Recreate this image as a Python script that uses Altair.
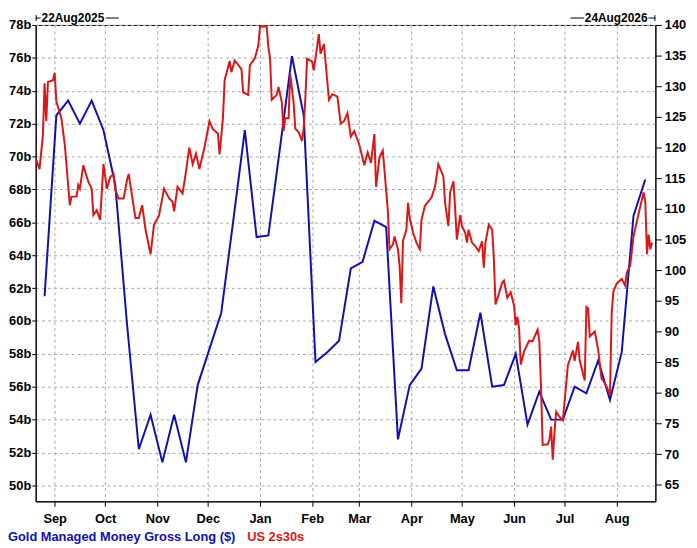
import altair as alt
import pandas as pd

# ---------------- data ----------------
blue_dates = [
    "2025-08-26", "2025-09-02", "2025-09-09", "2025-09-16", "2025-09-23", "2025-09-30",
    "2025-10-07", "2025-10-14", "2025-10-21", "2025-10-28", "2025-11-04", "2025-11-11",
    "2025-11-18", "2025-11-25", "2025-12-02", "2025-12-09", "2025-12-16", "2025-12-23",
    "2025-12-30", "2026-01-06", "2026-01-13", "2026-01-20", "2026-01-27", "2026-02-03",
    "2026-02-10", "2026-02-17", "2026-02-24", "2026-03-03", "2026-03-10", "2026-03-17",
    "2026-03-24", "2026-03-31", "2026-04-07", "2026-04-14", "2026-04-21", "2026-04-28",
    "2026-05-05", "2026-05-12", "2026-05-19", "2026-05-26", "2026-06-02", "2026-06-09",
    "2026-06-16", "2026-06-23", "2026-06-30", "2026-07-07", "2026-07-14", "2026-07-21",
    "2026-07-28", "2026-08-04", "2026-08-11", "2026-08-18",
]
blue_vals = [
    61.5, 72.5, 73.4, 72.0, 73.4, 71.6,
    68.3, 59.8, 52.2, 54.3, 51.4, 54.3,
    51.4, 56.1, 58.3, 60.5, 66.0, 71.6,
    65.1, 65.2, 70.6, 76.1, 72.5, 57.5,
    58.1, 58.8, 63.2, 63.6, 66.1, 65.7,
    52.8, 56.1, 57.1, 62.1, 59.2, 57.0,
    57.0, 60.5, 56.0, 56.1, 58.0, 53.7,
    55.7, 54.0, 54.0, 56.0, 55.6, 57.6,
    55.2, 58.1, 66.4, 68.6,
]

red_dates = [
    "2025-08-21", "2025-08-23", "2025-08-25", "2025-08-26", "2025-08-27", "2025-08-28", "2025-08-31",
    "2025-09-01", "2025-09-02", "2025-09-05", "2025-09-07", "2025-09-10", "2025-09-11", "2025-09-14",
    "2025-09-15", "2025-09-16", "2025-09-18", "2025-09-21", "2025-09-23", "2025-09-24", "2025-09-26",
    "2025-09-28", "2025-09-30",
    "2025-10-02", "2025-10-04", "2025-10-06", "2025-10-07", "2025-10-09", "2025-10-12", "2025-10-14",
    "2025-10-15", "2025-10-16", "2025-10-19", "2025-10-21", "2025-10-23", "2025-10-25", "2025-10-28",
    "2025-10-30",
    "2025-11-02", "2025-11-05", "2025-11-08", "2025-11-10", "2025-11-11", "2025-11-13", "2025-11-16",
    "2025-11-18", "2025-11-20", "2025-11-22", "2025-11-24", "2025-11-26", "2025-11-29",
    "2025-12-02", "2025-12-04", "2025-12-07", "2025-12-08", "2025-12-10", "2025-12-11", "2025-12-14",
    "2025-12-15", "2025-12-17", "2025-12-21", "2025-12-22", "2025-12-25", "2025-12-26", "2025-12-29",
    "2025-12-31",
    "2026-01-01", "2026-01-05", "2026-01-06", "2026-01-07", "2026-01-08", "2026-01-11", "2026-01-12",
    "2026-01-14", "2026-01-15", "2026-01-16", "2026-01-18", "2026-01-19", "2026-01-21", "2026-01-22",
    "2026-01-24", "2026-01-26", "2026-01-27", "2026-01-28", "2026-01-29",
    "2026-02-01", "2026-02-02", "2026-02-05", "2026-02-06", "2026-02-08", "2026-02-11", "2026-02-13",
    "2026-02-16", "2026-02-18", "2026-02-20", "2026-02-22", "2026-02-24", "2026-02-26",
    "2026-03-01", "2026-03-04", "2026-03-06", "2026-03-08", "2026-03-10", "2026-03-11", "2026-03-13",
    "2026-03-15", "2026-03-16", "2026-03-18", "2026-03-19", "2026-03-21", "2026-03-22", "2026-03-24",
    "2026-03-25", "2026-03-26", "2026-03-27", "2026-03-29", "2026-03-30", "2026-03-31",
    "2026-04-02", "2026-04-04", "2026-04-06", "2026-04-07", "2026-04-09", "2026-04-13", "2026-04-15",
    "2026-04-17", "2026-04-20", "2026-04-21", "2026-04-23", "2026-04-24", "2026-04-26", "2026-04-27",
    "2026-04-28", "2026-04-30",
    "2026-05-01", "2026-05-03", "2026-05-04", "2026-05-05", "2026-05-07", "2026-05-09", "2026-05-11",
    "2026-05-13", "2026-05-14", "2026-05-15", "2026-05-17", "2026-05-19", "2026-05-20", "2026-05-21",
    "2026-05-23", "2026-05-25", "2026-05-26", "2026-05-28", "2026-05-30",
    "2026-06-01", "2026-06-02", "2026-06-03", "2026-06-04", "2026-06-05", "2026-06-07", "2026-06-10",
    "2026-06-12", "2026-06-15", "2026-06-16", "2026-06-17", "2026-06-18", "2026-06-21", "2026-06-22",
    "2026-06-23", "2026-06-24", "2026-06-25", "2026-06-26", "2026-06-28", "2026-06-30",
    "2026-07-03", "2026-07-06", "2026-07-07", "2026-07-09", "2026-07-10", "2026-07-13", "2026-07-14",
    "2026-07-15", "2026-07-16", "2026-07-19", "2026-07-21", "2026-07-23", "2026-07-24", "2026-07-26",
    "2026-07-28", "2026-07-29", "2026-07-30",
    "2026-08-01", "2026-08-04", "2026-08-06", "2026-08-07", "2026-08-09", "2026-08-11", "2026-08-13",
    "2026-08-17", "2026-08-18", "2026-08-19", "2026-08-20", "2026-08-21", "2026-08-22",
]
red_vals = [
    118.0, 116.5, 122.0, 130.5, 124.3, 130.7, 131.0,
    132.2, 127.5, 124.8, 120.5, 110.6, 112.0, 112.0,
    113.9, 113.3, 117.1, 114.4, 113.3, 109.0, 109.8,
    108.2, 117.3,
    113.3, 115.2, 115.7, 113.1, 111.7, 111.7, 114.7,
    115.7, 113.9, 108.5, 108.5, 110.6, 106.6, 102.6,
    107.4,
    108.9, 113.3, 111.7, 111.2, 109.6, 113.6, 112.5,
    116.0, 120.0, 117.3, 119.0, 116.5, 120.0,
    124.3, 123.0, 122.3, 118.9, 124.8, 131.0, 134.1,
    132.3, 134.2, 132.8, 129.0, 128.6, 133.4, 134.6,
    136.6,
    139.7, 139.8, 136.4, 134.5, 127.8, 128.6, 129.9,
    127.4, 122.7, 124.8, 124.8, 132.0, 127.3, 123.1,
    122.5, 121.1, 123.2, 128.2, 134.5,
    134.0, 132.6, 138.5, 135.3, 136.9, 127.8, 128.7,
    128.3, 123.9, 124.3, 125.6, 121.8, 122.7,
    120.5, 117.1, 119.2, 117.5, 122.2, 113.6, 118.4,
    119.5, 116.3, 109.7, 103.4, 104.2, 105.5, 103.4,
    100.7, 94.6, 104.8, 106.6, 111.0, 108.5,
    106.1, 104.5, 103.4, 108.2, 110.5, 111.9, 113.6,
    117.3, 115.3, 111.0, 107.2, 112.7, 114.5, 110.0,
    105.0, 109.0,
    107.2, 106.1, 104.5, 106.6, 104.5, 103.9, 103.1,
    104.7, 100.4, 104.5, 107.4, 106.6, 101.8, 94.4,
    96.2, 98.0, 98.3, 95.5, 96.4,
    94.2, 91.0, 92.4, 90.5, 84.6, 86.8, 88.5,
    88.4, 90.3, 88.4, 81.3, 71.5, 71.6, 72.3,
    74.5, 69.1, 73.5, 76.9, 76.1, 75.5,
    84.5, 86.9, 85.2, 88.3, 85.3, 82.0, 94.0,
    93.8, 89.2, 90.0, 87.0, 82.3, 82.0, 81.0,
    79.7, 92.8, 96.5,
    97.8, 98.6, 97.5, 99.6, 100.7, 105.5, 108.0,
    112.7, 111.2, 102.6, 105.8, 103.4, 104.5,
]

left_ticks = [50, 52, 54, 56, 58, 60, 62, 64, 66, 68, 70, 72, 74, 76, 78]
right_ticks = [65, 70, 75, 80, 85, 90, 95, 100, 105, 110, 115, 120, 125, 130, 135, 140]
left_domain = [49.03, 78]
right_domain = [62.3, 140]
start_label = "22Aug2025"
end_label = "24Aug2026"
blue_name = "Gold Managed Money Gross Long ($)"
red_name = "US 2s30s"

# ---------------- style ----------------
FONT = "Liberation Sans"
BLUE = "#1010b0"
RED = "#dc1616"
GRID = "#a8a8a8"
W, H = 627, 482
PAD_L = 28
PAD_T = 14

blue_df = pd.DataFrame({"date": blue_dates, "value": blue_vals})
red_df = pd.DataFrame({"date": red_dates, "value": red_vals})
one = pd.DataFrame({"k": [0]})

x_scale = alt.Scale(
    type="utc",
    domain=[
        alt.DateTime(year=2025, month=8, date=20, hours=17, utc=True),
        alt.DateTime(year=2026, month=8, date=24, utc=True),
    ],
    nice=False,
)
x_axis = alt.Axis(
    title=None, format="%b", tickCount={"interval": "month", "step": 1},
    grid=True, gridDash=[3, 3], gridColor=GRID, tickSize=5, labelPadding=6,
)
x_enc = alt.X("date:T", scale=x_scale, axis=x_axis)

blue = alt.Chart(blue_df).mark_line(color=BLUE, strokeWidth=2).encode(
    x=x_enc,
    y=alt.Y(
        "value:Q",
        scale=alt.Scale(domain=left_domain, nice=False, zero=False),
        axis=alt.Axis(
            orient="left", title=None, values=left_ticks,
            labelExpr="datum.value + 'b'", grid=True, gridDash=[3, 3],
            gridColor=GRID, tickSize=4, labelPadding=1,
        ),
    ),
)

red = alt.Chart(red_df).mark_line(color=RED, strokeWidth=2).encode(
    x=x_enc,
    y=alt.Y(
        "value:Q",
        scale=alt.Scale(domain=right_domain, nice=False, zero=False),
        axis=alt.Axis(
            orient="right", title=None, values=right_ticks, grid=False,
            tickSize=6, labelPadding=3,
        ),
    ),
)


def label(text, x, y, color, align, size=13):
    return alt.Chart(one).mark_text(
        text=text, font=FONT, fontSize=size, fontWeight="bold", color=color,
        align=align, baseline="middle",
    ).encode(x=alt.value(x), y=alt.value(y))


def hrule(x1, x2, y):
    return alt.Chart(one).mark_rule(color="black", strokeWidth=1).encode(
        x=alt.value(x1), x2=alt.value(x2), y=alt.value(y)
    )


def vrule(x, y1, y2):
    return alt.Chart(one).mark_rule(color="black", strokeWidth=1).encode(
        x=alt.value(x), y=alt.value(y1), y2=alt.value(y2)
    )


TOP_Y = -7
decor = [
    label(start_label, 6, TOP_Y, "black", "left", 12),
    label(end_label, W - 8, TOP_Y, "black", "right", 12),
    vrule(0.5, TOP_Y - 3, TOP_Y + 3), hrule(0, 5, TOP_Y), hrule(71, 84, TOP_Y),
    hrule(W - 86, W - 72, TOP_Y), hrule(W - 7, W, TOP_Y), vrule(W - 0.5, TOP_Y - 3, TOP_Y + 3),
    label(blue_name, -PAD_L, 518, BLUE, "left"),
    label(red_name, 214, 518, RED, "left"),
]

chart = (
    alt.layer(blue, red, *decor)
    .resolve_scale(y="independent")
    .properties(
        width=W, height=H,
        padding={"left": PAD_L, "top": PAD_T, "right": 34, "bottom": 40},
        autosize=alt.AutoSizeParams(type="none"),
        background="white",
    )
    .configure_view(stroke="black", strokeWidth=1)
    .configure_axis(
        labelFont=FONT, labelFontSize=13, labelFontWeight="bold",
        labelColor="black", domainColor="black", domainWidth=1,
        tickColor="black", tickWidth=1,
    )
)

chart.save("out.html", embed_options={"renderer": "svg", "actions": False})
